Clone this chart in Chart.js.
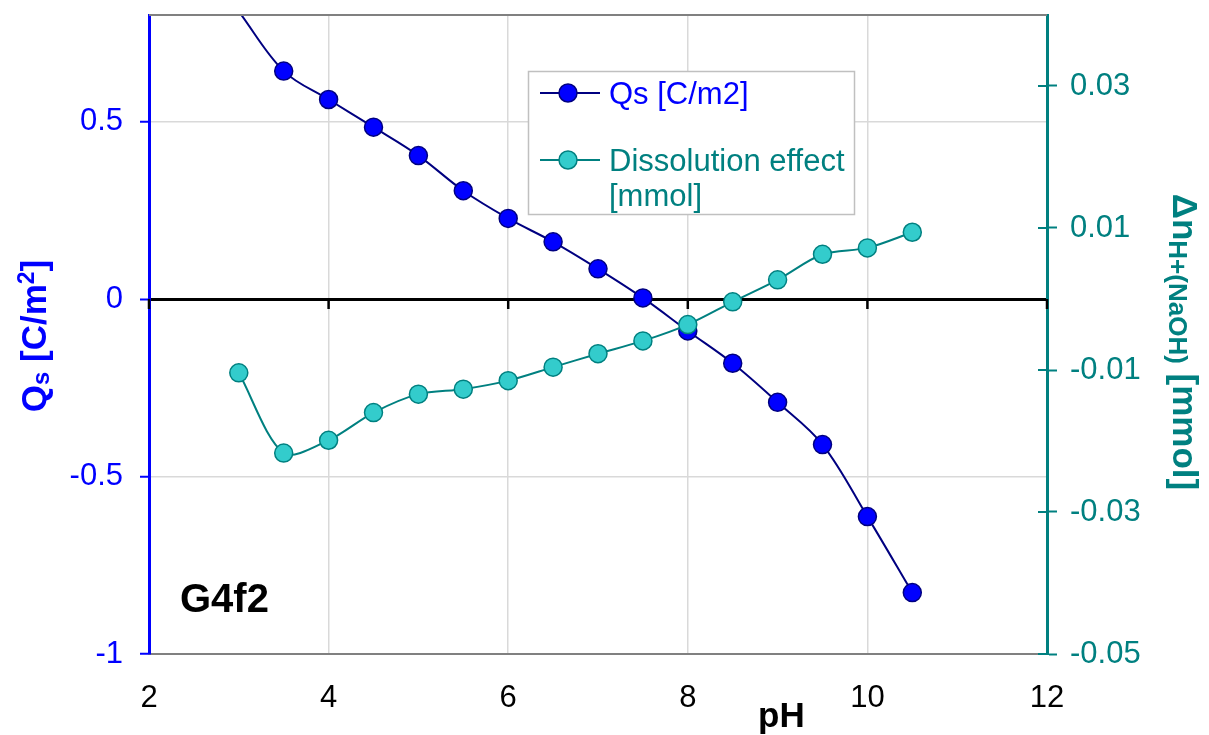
<!DOCTYPE html>
<html>
<head>
<meta charset="utf-8">
<script src="https://cdn.jsdelivr.net/npm/chart.js@4.4.1/dist/chart.umd.min.js"></script>
<style>
  html, body { margin: 0; padding: 0; background: #fff; }
  canvas { display: block; }
</style>
</head>
<body>
<canvas id="chart" width="1209" height="735"></canvas>
<script>
// pH titration points (shared x values for both series)
const phValues = [3, 3.5, 4, 4.5, 5, 5.5, 6, 6.5, 7, 7.5, 8, 8.5, 9, 9.5, 10, 10.5];
// surface charge Qs [C/m2], left axis
const qsValues = [0.81, 0.642, 0.562, 0.484, 0.404, 0.305, 0.227, 0.161, 0.085, 0.003,
  -0.090, -0.181, -0.291, -0.410, -0.613, -0.827];
// dissolution effect [mmol], right axis
const dissolutionValues = [-0.0104, -0.0217, -0.0199, -0.0160, -0.0134, -0.0127, -0.0115, -0.0096,
  -0.0077, -0.0059, -0.0036, -0.0004, 0.0027, 0.0063, 0.0072, 0.0094];

const xTicks = [2, 4, 6, 8, 10, 12];
const leftTicks = [-1, -0.5, 0, 0.5];
const rightTicks = [-0.05, -0.03, -0.01, 0.01, 0.03];

const FONT = '"Liberation Sans", Arial, sans-serif';
const BLUE = '#0000ff';
const NAVY = '#000080';
const TEAL = '#008080';
const CYAN = '#33cccc';
const GRID = '#d9d9d9';
const LEFT_MAX = 0.8;

Chart.defaults.font.family = FONT;

// draws a run of text pieces (sub/superscripts) centred on the origin
function drawRuns(ctx, runs) {
  let total = 0;
  runs.forEach((r) => {
    ctx.font = r.font;
    r.w = ctx.measureText(r.text).width;
    total += r.w;
  });
  let x = -total / 2;
  runs.forEach((r) => {
    ctx.font = r.font;
    ctx.fillText(r.text, x, r.dy || 0);
    x += r.w;
  });
}

// fixed box sizes so the plot area lands where the original one is
function fixBox(size) {
  return (s) => {
    Object.assign(s, size);
    s.paddingTop = 0;
    s.paddingBottom = 0;
    s.paddingLeft = 0;
    s.paddingRight = 0;
  };
}

const decorations = {
  id: 'decorations',
  afterDraw(chart) {
    const { ctx, chartArea: area, scales } = chart;
    ctx.save();

    // top border of the plot area
    ctx.strokeStyle = '#808080';
    ctx.lineWidth = 2;
    ctx.beginPath();
    ctx.moveTo(area.left, area.top);
    ctx.lineTo(area.right, area.top);
    ctx.stroke();

    // tick marks hanging under the zero line
    const y0 = scales.y.getPixelForValue(0);
    ctx.strokeStyle = '#000';
    ctx.lineWidth = 2.5;
    xTicks.forEach((v) => {
      const px = scales.x.getPixelForValue(v);
      ctx.beginPath();
      ctx.moveTo(px, y0);
      ctx.lineTo(px, y0 + 10);
      ctx.stroke();
    });

    // inner half of the right axis ticks
    ctx.strokeStyle = TEAL;
    ctx.lineWidth = 2;
    rightTicks.forEach((v) => {
      const py = scales.y1.getPixelForValue(v);
      ctx.beginPath();
      ctx.moveTo(area.right - 9, py);
      ctx.lineTo(area.right, py);
      ctx.stroke();
    });

    // legend box
    ctx.fillStyle = '#fff';
    ctx.strokeStyle = '#c0c0c0';
    ctx.lineWidth = 1.5;
    ctx.fillRect(528, 71, 326, 143);
    ctx.strokeRect(528.5, 71.5, 326, 143);

    const sets = chart.data.datasets;
    const rows = [
      { ds: sets[0], y: 93, lines: ['Qs [C/m2]'], color: BLUE, base: 104 },
      { ds: sets[1], y: 160, lines: ['Dissolution effect', '[mmol]'], color: TEAL, base: 171 },
    ];
    rows.forEach((row) => {
      ctx.strokeStyle = row.ds.borderColor;
      ctx.lineWidth = 2;
      ctx.beginPath();
      ctx.moveTo(540, row.y);
      ctx.lineTo(600, row.y);
      ctx.stroke();
      ctx.beginPath();
      ctx.arc(568, row.y, 9, 0, Math.PI * 2);
      ctx.fillStyle = row.ds.pointBackgroundColor;
      ctx.fill();
      ctx.lineWidth = 1.5;
      ctx.strokeStyle = row.ds.pointBorderColor;
      ctx.stroke();
      ctx.fillStyle = row.color;
      ctx.font = `31px ${FONT}`;
      ctx.textAlign = 'left';
      ctx.textBaseline = 'alphabetic';
      row.lines.forEach((t, i) => ctx.fillText(t, 609, row.base + i * 35));
    });

    // sample tag
    ctx.fillStyle = '#000';
    ctx.font = `bold 40px ${FONT}`;
    ctx.fillText('G4f2', 180, 612);

    // x axis title
    ctx.font = `bold 35px ${FONT}`;
    ctx.fillText('pH', 758, 727);

    // left axis title
    ctx.save();
    ctx.translate(46, 336);
    ctx.rotate(-Math.PI / 2);
    ctx.fillStyle = BLUE;
    drawRuns(ctx, [
      { text: 'Q', font: `bold 35px ${FONT}` },
      { text: 's', font: `bold 24px ${FONT}`, dy: 3 },
      { text: ' [C/m', font: `bold 35px ${FONT}` },
      { text: '2', font: `bold 23px ${FONT}`, dy: -12 },
      { text: ']', font: `bold 35px ${FONT}` },
    ]);
    ctx.restore();

    // right axis title
    ctx.save();
    ctx.translate(1173, 342);
    ctx.rotate(Math.PI / 2);
    ctx.fillStyle = TEAL;
    drawRuns(ctx, [
      { text: 'Δn', font: `bold 35px ${FONT}` },
      { text: 'H+(NaOH)', font: `bold 26px ${FONT}`, dy: 4 },
      { text: ' [mmol]', font: `bold 35px ${FONT}` },
    ]);
    ctx.restore();

    ctx.restore();
  },
};

new Chart(document.getElementById('chart').getContext('2d'), {
  type: 'line',
  data: {
    datasets: [
      {
        label: 'Qs [C/m2]',
        data: phValues.map((x, i) => ({ x, y: qsValues[i] })),
        yAxisID: 'y',
        order: 2,
        borderColor: NAVY,
        borderWidth: 2,
        backgroundColor: BLUE,
        pointBackgroundColor: BLUE,
        pointBorderColor: NAVY,
        pointBorderWidth: 1.5,
        // points above the axis maximum are not shown
        pointRadius: qsValues.map((v) => (v > LEFT_MAX ? 0 : 9)),
        tension: 0.35,
      },
      {
        label: 'Dissolution effect [mmol]',
        data: phValues.map((x, i) => ({ x, y: dissolutionValues[i] })),
        yAxisID: 'y1',
        order: 1,
        borderColor: TEAL,
        borderWidth: 2,
        backgroundColor: CYAN,
        pointBackgroundColor: CYAN,
        pointBorderColor: TEAL,
        pointBorderWidth: 1.5,
        pointRadius: 9,
        tension: 0.3,
      },
    ],
  },
  options: {
    responsive: false,
    animation: false,
    devicePixelRatio: 1,
    layout: { padding: { top: 15, left: 0, right: 0, bottom: 0 } },
    plugins: { legend: { display: false }, tooltip: { enabled: false } },
    scales: {
      x: {
        type: 'linear',
        position: 'bottom',
        min: 2,
        max: 12,
        afterBuildTicks: (s) => { s.ticks = xTicks.map((v) => ({ value: v })); },
        afterFit: fixBox({ height: 81 }),
        grid: { color: GRID, lineWidth: 1.5, drawTicks: false },
        border: { color: '#808080', width: 2 },
        ticks: { color: '#000', font: { size: 31 }, padding: 26, maxRotation: 0, callback: (v) => String(v) },
      },
      y: {
        type: 'linear',
        position: 'left',
        min: -1,
        max: LEFT_MAX,
        afterBuildTicks: (s) => { s.ticks = leftTicks.map((v) => ({ value: v })); },
        afterFit: fixBox({ width: 149 }),
        grid: {
          color: (c) => (c.tick && c.tick.value === 0 ? '#000' : GRID),
          lineWidth: (c) => (c.tick && c.tick.value === 0 ? 3 : 1.5),
          tickColor: BLUE,
          tickWidth: 2,
          tickLength: 9,
        },
        border: { color: BLUE, width: 3 },
        ticks: { color: BLUE, font: { size: 31 }, padding: 17, callback: (v) => String(v) },
      },
      y1: {
        type: 'linear',
        position: 'right',
        min: -0.05,
        max: 0.04,
        afterBuildTicks: (s) => { s.ticks = rightTicks.map((v) => ({ value: v })); },
        afterFit: fixBox({ width: 162 }),
        grid: { drawOnChartArea: false, tickColor: TEAL, tickWidth: 2, tickLength: 10 },
        border: { color: TEAL, width: 3 },
        ticks: { color: TEAL, font: { size: 31 }, padding: 13, callback: (v) => v.toFixed(2) },
      },
    },
  },
  plugins: [decorations],
});
</script>
</body>
</html>
